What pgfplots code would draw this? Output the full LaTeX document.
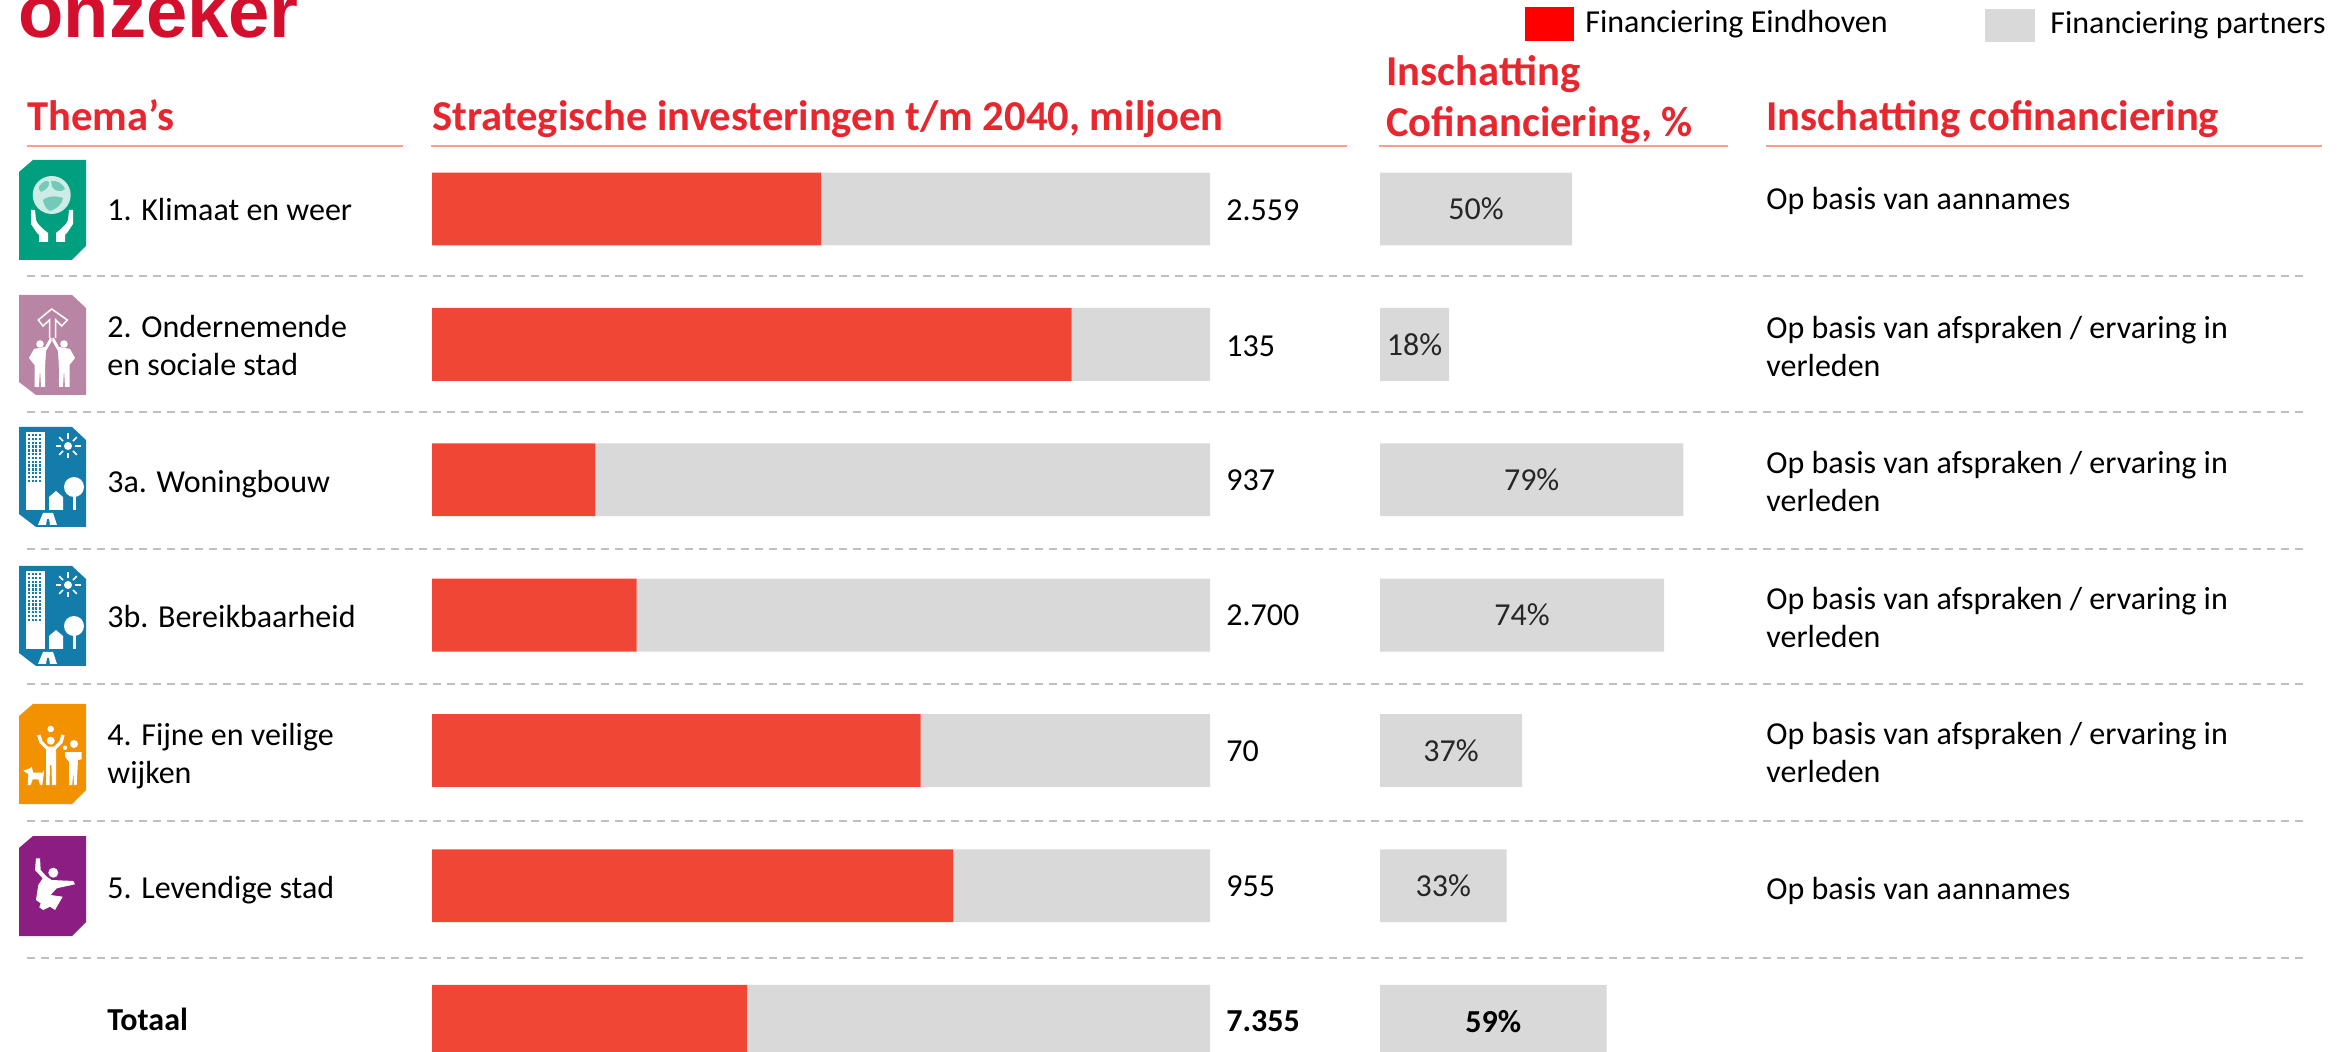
\documentclass[border=0pt]{standalone}
\usepackage{pgfplots}
\usepackage{pgfplotstable}
\usepackage{fontspec}
\pgfplotsset{compat=1.18}
\setmainfont{Carlito}
\newfontfamily\arialb[Scale=1]{Liberation Sans}
\definecolor{barred}{HTML}{F04635}
\definecolor{bargrey}{HTML}{D9D9D9}
\definecolor{headred}{HTML}{E8262E}
\definecolor{rulered}{HTML}{FF9C8C}
\definecolor{titlered}{HTML}{D40F2D}
\definecolor{dashgrey}{HTML}{BFBFBF}
\definecolor{icgreen}{HTML}{009F7F}
\definecolor{icmauve}{HTML}{B985A5}
\definecolor{icblue}{HTML}{147CAB}
\definecolor{icorange}{HTML}{F39200}
\definecolor{icpurple}{HTML}{8C1D82}
\pgfplotstableread{
row eindhoven partners cof halfcof
0 50 50 50 25
1 82.2 17.8 18 9
2 21 79 79 39.5
3 26.3 73.7 74 37
4 62.8 37.2 37 18.5
5 67 33 33 16.5
6 40.5 59.5 59 29.5
}\mydata
\newcommand{\bodyfont}{\fontsize{16}{18}\selectfont}
\newcommand{\headfont}{\fontsize{21.3}{25}\selectfont\bfseries}
\newcommand{\T}[4][black]{\node[anchor=base west,inner sep=0pt,text=#1] at (#2,#3) {#4};}
% cut corners TL+BR
\newcommand{\iconA}[3]{\begin{scope}[shift={(#1,#2)}]\fill[#3] (14,0)--(67,0)--(67,86)--(53,100)--(0,100)--(0,12)--cycle;}
% cut corners TR+BL
\newcommand{\iconB}[3]{\begin{scope}[shift={(#1,#2)}]\fill[#3] (0,0)--(53,0)--(67,13)--(67,100)--(17,100)--(0,87)--cycle;}
\newcommand{\cityicon}{%
  \fill[white] (7,5) rectangle (26,83);
  \foreach \a in {9,12.6,...,23} \foreach \b in {7,10.8,...,55} \fill[icblue] (\a,\b) rectangle +(2.2,2.5);
  \fill[white] (49,19) circle (2pt);
  \foreach \r in {0,45,...,315} \draw[white,line width=0.8pt] ({49+7*cos(\r)},{19+7*sin(\r)})--({49+12.5*cos(\r)},{19+12.5*sin(\r)});
  \fill[white] (30,83)--(30,70)--(37,64)--(44,70)--(44,83)--cycle;
  \fill[white] (55,60) circle (5pt);
  \fill[white] (54,83) rectangle (56.5,65);
  \fill[white] (19,98)--(24,86)--(34,86)--(38,98)--(31,98)--(30,92)--(28,92)--(27,98)--cycle;
}
\begin{document}
\begin{tikzpicture}
\path[use as bounding box,clip] (0pt,0pt) rectangle (1172pt,-526pt);

\begin{axis}[
  at={(216pt,-70.65pt)},anchor=north west,
  scale only axis,width=389pt,height=473.8pt,
  xmin=0,xmax=100,ymin=-0.5,ymax=6.5,y dir=reverse,
  axis lines=none,clip=false,xbar stacked,bar width=36.4pt,
  ]
  \addplot[fill=barred,draw=none] table[x=eindhoven,y=row]{\mydata};
  \addplot[fill=bargrey,draw=none] table[x=partners,y=row]{\mydata};
\end{axis}

\begin{axis}[
  at={(690pt,-70.65pt)},anchor=north west,
  scale only axis,width=192pt,height=473.8pt,
  xmin=0,xmax=100,ymin=-0.5,ymax=6.5,y dir=reverse,
  axis lines=none,clip=false,xbar,bar width=36.4pt,bar shift=0pt,
  ]
  \addplot[fill=bargrey,draw=none] table[x=cof,y=row]{\mydata};
  \addplot[draw=none,mark=none,forget plot,
    nodes near coords,point meta=explicit symbolic,
    nodes near coords style={anchor=center,text=black!85,font=\bodyfont,inner sep=0pt,yshift=0pt}]
    table[x=halfcof,y=row,meta=label]{
    row halfcof label
    0 25 {50\%}
    1 9 {18\%}
    2 39.5 {79\%}
    3 37 {74\%}
    4 18.5 {37\%}
    5 16.5 {33\%}
    };
  \addplot[draw=none,mark=none,forget plot,
    nodes near coords,point meta=explicit symbolic,
    nodes near coords style={anchor=center,text=black,font=\bodyfont\bfseries,inner sep=0pt,yshift=0pt}]
    table[x=halfcof,y=row,meta=label]{
    row halfcof label
    6 29.5 {59\%}
    };
\end{axis}

\begin{scope}[x=0.5pt,y=-0.5pt]
  % title
  \node[anchor=base west,inner sep=0pt,text=titlered] at (18,38) {\arialb\fontsize{37.1}{40}\selectfont\bfseries onzeker};
  % legend
  \fill[red] (1525,7) rectangle (1574,41);
  \fill[bargrey] (1985,9) rectangle (2035,42);
  \T{1585}{33}{\bodyfont Financiering Eindhoven}
  \T{2050}{34}{\bodyfont Financiering partners}
  % headers
  \T[headred]{27}{131}{\headfont Thema’s}
  \T[headred]{432}{131}{\headfont Strategische investeringen t/m 2040, miljoen}
  \T[headred]{1386}{86}{\headfont Inschatting}
  \T[headred]{1386}{137}{\headfont Cofinanciering, \%}
  \T[headred]{1766}{131}{\headfont Inschatting cofinanciering}
  \foreach \a/\b in {27/403,431/1347,1379/1728,1766/2322}
    \draw[rulered,line width=1pt] (\a,146)--(\b,146);
  % dashed separators
  \foreach \y in {276,412,549,684,821,958}
    \draw[dashgrey,line width=0.8pt,dash pattern=on 4pt off 3pt] (27,\y)--(2306,\y);
  % row labels
  \T{107}{220.5}{\bodyfont 1. Klimaat en weer}
  \T{107}{337.5}{\bodyfont 2. Ondernemende}
  \T{107}{375.5}{\bodyfont en sociale stad}
  \T{107}{492.5}{\bodyfont 3a. Woningbouw}
  \T{107}{627.5}{\bodyfont 3b. Bereikbaarheid}
  \T{107}{745}{\bodyfont 4. Fijne en veilige}
  \T{107}{783}{\bodyfont wijken}
  \T{107}{898}{\bodyfont 5. Levendige stad}
  \T{107}{1030}{\bodyfont\bfseries Totaal}
  % values
  \T{1226}{220.5}{\bodyfont 2.559}
  \T{1226}{356.5}{\bodyfont 135}
  \T{1226}{490.5}{\bodyfont 937}
  \T{1226}{626}{\bodyfont 2.700}
  \T{1226}{762}{\bodyfont 70}
  \T{1226}{896}{\bodyfont 955}
  \T{1226}{1031}{\bodyfont\bfseries 7.355}
  % basis text
  \T{1766}{210}{\bodyfont Op basis van aannames}
  \foreach \y in {338.5,473.5,609.5,744} {
    \T{1766}{\y}{\bodyfont Op basis van afspraken / ervaring in}
    \T{1766}{\y+38}{\bodyfont verleden}
  }
  \T{1766}{899}{\bodyfont Op basis van aannames}

  % icon 1
  \iconA{19}{160}{icgreen}
    \fill[white!80!icgreen] (32.7,35) circle (9.5pt);
    \fill[icgreen!55!white] (20,27) .. controls (23,21) and (28,20) .. (30,22) .. controls (31,27) and (26,30) .. (24,31) .. controls (22,33) and (20,31) .. (20,27)--cycle;
    \fill[icgreen!55!white] (32,21) .. controls (38,20) and (44,24) .. (46,29) .. controls (42,33) and (36,31) .. (33,27)--cycle;
    \fill[icgreen!55!white] (24,40) .. controls (30,35) and (38,36) .. (44,38) .. controls (44,44) and (36,50) .. (31,51) .. controls (27,49) and (25,45) .. (24,40)--cycle;
    \foreach \s in {-1,1} {
      \begin{scope}[shift={(33,0)},xscale=\s]
      \fill[white] (4,82)--(4,73)--(9,69)--(14,64)--(16,60)--(17,50)--(21,50)--(21,64)--(15,73)--(13,75)--(13,82)--cycle;
      \end{scope}
    }
  \end{scope}
  % icon 2
  \iconB{19}{295}{icmauve}
    \draw[white,line width=0.75pt] (30.5,43)--(30.5,25)--(24,31)--(19.3,25)--(32.7,14)--(48.3,25)--(42.7,31)--(36.7,25)--(36.7,43);
    \foreach \s in {-1,1} {
      \begin{scope}[shift={(33,0)},xscale=\s]
      \fill[white] (12,49) circle (1.9pt);
      \fill[white] (0.3,43)--(2,43)--(7,52)--(18,54)--(23,63)--(17.5,70)--(17.5,92)--(13,92)--(12,74)--(11,92)--(7,92)--(7,73)--(6,56)--(0.3,46)--cycle;
      \end{scope}
    }
  \end{scope}
  % icon 3a, 3b
  \iconB{19}{427}{icblue}\cityicon\end{scope}
  \iconB{19}{566}{icblue}\cityicon\end{scope}
  % icon 4
  \iconA{19}{704}{icorange}
    \fill[white] (31.7,25) circle (1.65pt);
    \draw[white,line width=1.7pt] (19.8,31)--(22,38)--(28,44)--(36,44)--(42,38)--(44,31);
    \fill[icorange] (31.7,36.7) circle (3pt);
    \fill[white] (31.7,36.7) circle (2pt);
    \fill[white] (27,44)--(37,44)--(37,81)--(33,81)--(32.4,61)--(31,61)--(30.5,81)--(27,81)--cycle;
    \fill[white] (55,40) circle (2pt);
    \fill[white] (46,43.7) circle (1.1pt);
    \fill[white] (46,48)--(62.7,48)--(62.7,55.3)--(59,56)--(57.7,81)--(55,81)--(54.3,67.7)--(53.3,81)--(50,81)--(50,57.7)--(46,52.7)--cycle;
    \fill[white] (4.3,66.7)--(11,64.3)--(12.7,62.7)--(14.3,68.7)--(23.7,68.7)--(24.3,66)--(25,68)--(23.3,81)--(21,81)--(19.3,75.3)--(13.7,75.3)--(11.7,81)--(8.7,81)--(9.3,70)--cycle;
  \end{scope}
  % icon 5
  \iconA{19}{836}{icpurple}
    \fill[white] (34.3,36.7) circle (2.5pt);
    \fill[white] (17,22.3)--(21,22.3)--(21.7,34)--(27.7,40.7)--(32.7,44)--(54.3,45)--(56,48.3)--(37.7,52.3)--(31.7,59)--(43.7,60.7)--(36,74)--(31,70.7)--(24.3,74)--(20.3,71.3)--(21.7,67.3)--(17,64)--(19.3,49)--(23.7,42.3)--(16,34)--cycle;
  \end{scope}
\end{scope}
\end{tikzpicture}
\end{document}
